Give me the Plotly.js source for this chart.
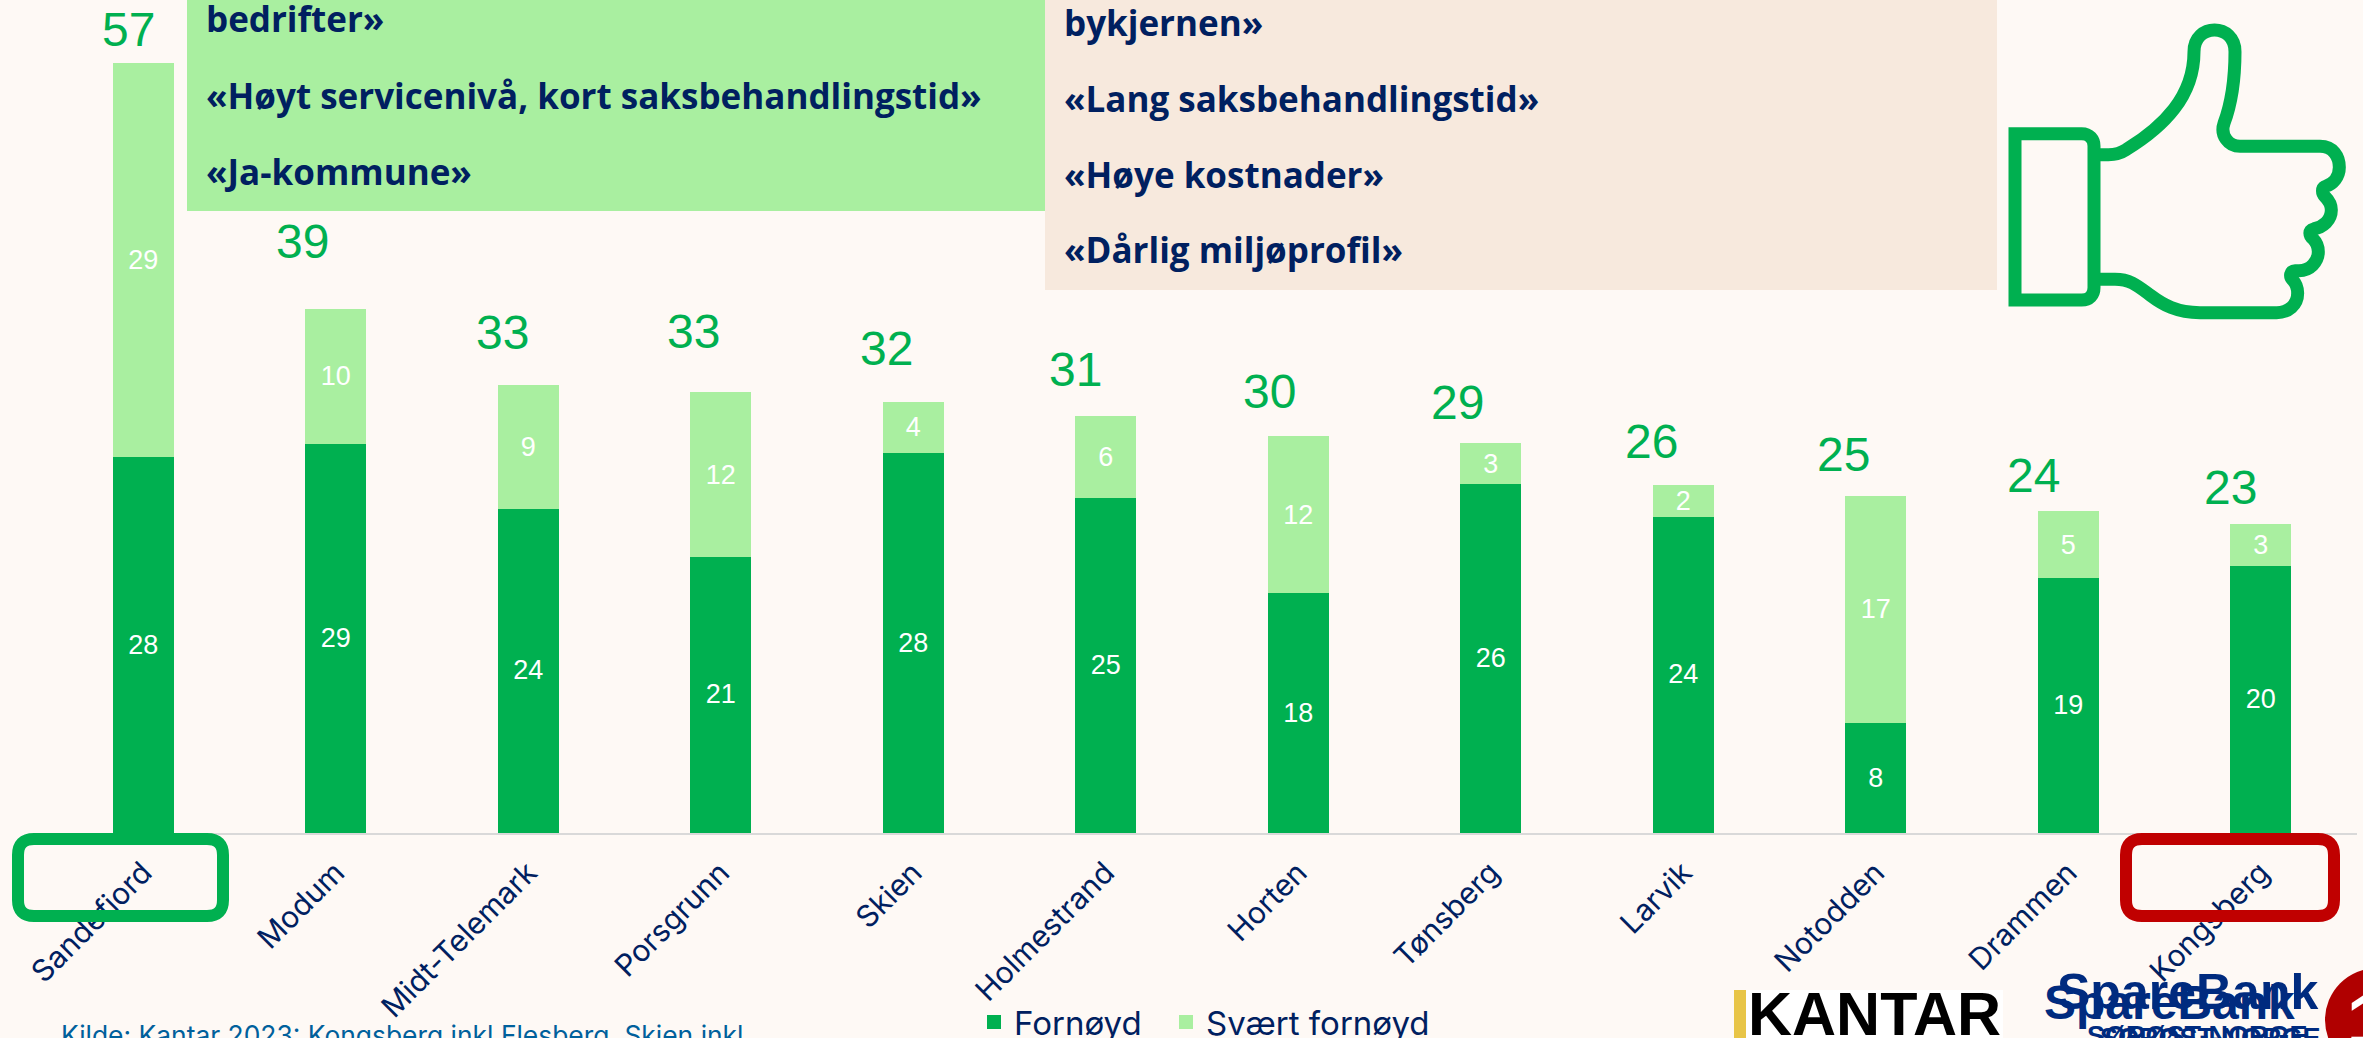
<!DOCTYPE html>
<html><head><meta charset="utf-8">
<script src="https://cdn.plot.ly/plotly-3.0.1.min.js"></script>
<style>html,body{margin:0;padding:0;overflow:hidden;background:#FEF9F5}</style>
</head><body><div id="chart" style="width:2363px;height:1038px"></div>
<script>
const categories = ["Sandefiord","Modum","Midt-Telemark","Porsgrunn","Skien","Holmestrand","Horten","Tønsberg","Larvik","Notodden","Drammen","Kongsberg"];
const fornoyd = [28,29,24.2,20.6,28.3,25,17.9,26,23.6,8.25,19,19.9];
const svaertFornoyd = [29.2,9.9,9,12.1,3.7,5.9,11.55,2.9,2.2,16.75,4.9,3];
const totals = [57,39,33,33,32,31,30,29,26,25,24,23];
const totalShiftX = [-15,-33,-26,-27,-27,-30,-29,-33,-32,-32,-35,-30];
const totalShiftY = [34,68,54,62,54,48,45,42,44,42,36,38];
const positiveLines = ["bedrifter»","«Høyt servicenivå, kort saksbehandlingstid»","«Ja-kommune»"];
const negativeLines = ["bykjernen»","«Lang saksbehandlingstid»","«Høye kostnader»","«Dårlig miljøprofil»"];
const sourceText = "Kilde: Kantar 2023: Kongsberg inkl Flesberg. Skien inkl";

const GREEN="#00B050", LIGHT="#A9EFA0", NAVY="#002060", BEIGE="#F7E9DD", BG="#FEF9F5", RED="#C00000", BANK="#002B7F";
const L=47, W=2310, H=833;
const X=p=>(p-L)/W, Y=p=>(H-p)/H;
const rect=(x0,y0,x1,y1,fill)=>({type:"rect",xref:"paper",yref:"paper",x0:X(x0),x1:X(x1),y0:Y(y0),y1:Y(y1),fillcolor:fill,line:{width:0},layer:"above"});
const pathOf=(cmds,fx,fy)=>cmds.map(c=>c[0]+c.slice(1).map((v,i)=>i%2==0?X(fx(v)):Y(fy(v))).join(" ")).join(" ");
const roundBox=(x0,y0,x1,y1,r,color)=>({type:"path",xref:"paper",yref:"paper",layer:"above",line:{color,width:12},
  path:pathOf([["M",x0+r,y0],["L",x1-r,y0],["Q",x1,y0,x1,y0+r],["L",x1,y1-r],["Q",x1,y1,x1-r,y1],["L",x0+r,y1],["Q",x0,y1,x0,y1-r],["L",x0,y0+r],["Q",x0,y0,x0+r,y0]],v=>v,v=>v)+" Z"});
const tx=v=>1990+v/3, ty=v=>10+v/3;
const cuff=[["M",75,371],["L",275,371],["C",298,371,312,388,312,408],["L",312,833],["C",312,855,298,870,275,870],["L",75,870]];
const hand=[["M",312,434],["L",355,434],["C",380,434,395,428,410,418],["C",520,350,612,260,612,125],["C",612,38,735,38,735,125],
 ["C",735,200,728,270,702,340],["C",690,375,715,409,750,409],["L",990,409],["C",1030,409,1048,440,1048,472],["C",1048,500,1030,522,1005,530],
 ["C",995,535,995,550,1005,560],["C",1020,575,1024,590,1024,600],["C",1024,630,1000,652,970,657],["C",955,660,958,678,968,685],
 ["C",980,697,985,715,985,725],["C",985,755,960,783,925,782],["L",915,782],["C",900,782,898,800,908,810],["C",918,820,923,835,923,850],
 ["C",923,885,895,908,860,908],["L",630,908],["C",560,908,520,885,480,855],["C",440,825,420,808,375,808],["L",312,808]];
const thumb=(c,close)=>({type:"path",xref:"paper",yref:"paper",layer:"above",line:{color:GREEN,width:13},path:pathOf(c,tx,ty)+(close?" Z":"")});

const shapes=[
 rect(187,-2,1045,211,LIGHT), rect(1045,-2,1997,290,BEIGE),
 roundBox(18,839,223,916,16,GREEN), roundBox(2126,839,2334,916,16,RED),
 thumb(cuff,true), thumb(hand,false),
 rect(1734,990,2003,1040,"#FFFFFF"), rect(1734,990,1746,1040,"#E8C547"),
 {type:"circle",xref:"paper",yref:"paper",x0:X(2325),x1:X(2429),y0:Y(968),y1:Y(1072),fillcolor:"#B00000",line:{width:0},layer:"above"}
];
const note=(text,px,py,size,color,family,extra)=>Object.assign({xref:"paper",yref:"paper",x:X(px),y:Y(py),text,showarrow:false,xanchor:"left",yanchor:"middle",
  font:{size,color,family}},extra||{});
const BOX='"Open Sans", sans-serif', LIB='"Liberation Sans", sans-serif';
const annotations=[
 ...totals.map((t,i)=>({x:categories[i],y:fornoyd[i]+svaertFornoyd[i],xref:"x",yref:"y",text:String(t),showarrow:false,xanchor:"center",yanchor:"middle",
   xshift:totalShiftX[i],yshift:totalShiftY[i],font:{size:48,color:GREEN,family:LIB}})),
 ...positiveLines.map((t,i)=>note("<b>"+t+"</b>",204,[18,95,172][i],35,NAVY,BOX)),
 ...negativeLines.map((t,i)=>note("<b>"+t+"</b>",1062,[22,98,174,250][i],35,NAVY,BOX)),
 note(sourceText,59,1035,26.4,"#00609C",'Inter, sans-serif'),
 note("<b>KANTAR</b>",1746,1014,61,"#000000",LIB),
 note("<b>SpareBank</b>",2055,992,50,BANK,LIB),
 note("<b>SpareBank</b>",2042,1002,48,BANK,LIB),
 note("<b>SØRØST-NORGE</b>",2085,1036,27,BANK,LIB),
 note("<b>SØRØST-NORGE</b>",2098,1038,27,BANK,LIB),
 note("<b>1</b>",2345,1020,70,"#FFFFFF",LIB)
];
const bar=(name,y,color,legend)=>({type:"bar",name,legend,x:categories,y,width:0.305,marker:{color,line:{color,width:2}},
  texttemplate:"%{y:.0f}",textposition:"inside",insidetextanchor:"middle",textangle:0,constraintext:"none",cliponaxis:false,
  textfont:{size:27,color:"#FFFFFF",family:LIB},hoverinfo:"x+y"});
const legendAt=px=>({orientation:"h",xref:"container",yref:"container",x:px/2363,y:1-994/1038,xanchor:"left",yanchor:"top",bgcolor:"rgba(0,0,0,0)",
   font:{size:33,color:NAVY,family:"Inter, sans-serif"}});
Plotly.newPlot("chart",[bar("Fornøyd",fornoyd,GREEN,"legend"),bar("Svært fornøyd",svaertFornoyd,LIGHT,"legend2")],{
 width:2363,height:1038,paper_bgcolor:BG,plot_bgcolor:BG,barmode:"stack",
 margin:{l:L,r:6,t:0,b:205,pad:0,autoexpand:false},
 xaxis:{type:"category",categoryorder:"array",categoryarray:categories,range:[-0.5,11.5],showline:true,linecolor:"#D9D9D9",linewidth:2,showgrid:false,zeroline:false,
   ticks:"",tickangle:-45,ticklabelstandoff:8,automargin:false,tickfont:{size:30,color:NAVY,family:"Inter, sans-serif"}},
 yaxis:{range:[0,H/13.45],visible:false,showgrid:false,zeroline:false,automargin:false},
 showlegend:true,
 legend:legendAt(974), legend2:legendAt(1166),
 shapes,annotations
},{displayModeBar:false,responsive:false});
</script></body></html>
